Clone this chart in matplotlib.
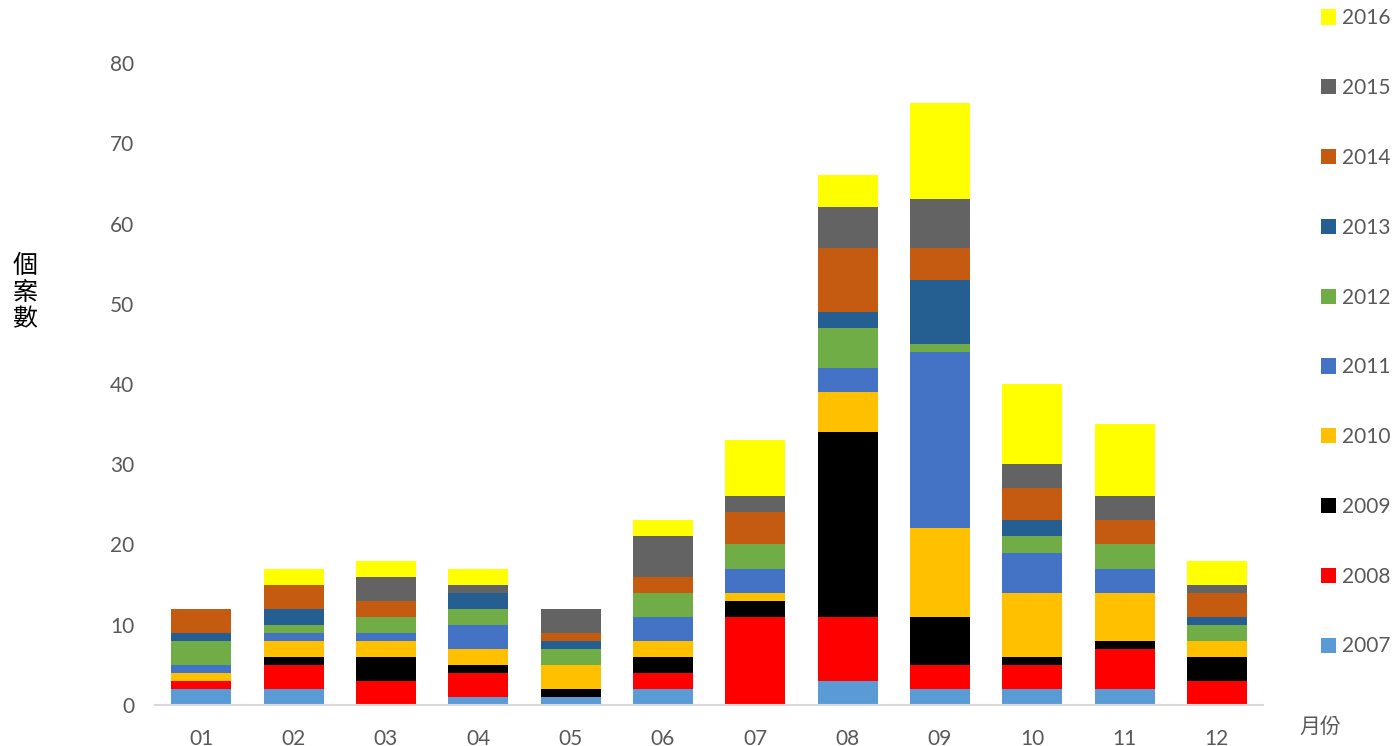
import numpy as np
import matplotlib.pyplot as plt

plt.rcParams['font.family'] = ['Lato', 'Noto Sans CJK TC', 'DejaVu Sans']

# Cases per month, one list per year
months = ['01', '02', '03', '04', '05', '06', '07', '08', '09', '10', '11', '12']
years = ['2007', '2008', '2009', '2010', '2011', '2012', '2013', '2014', '2015', '2016']

y2007 = [2, 2, 0, 1, 1, 2, 0, 3, 2, 2, 2, 0]
y2008 = [1, 3, 3, 3, 0, 2, 11, 8, 3, 3, 5, 3]
y2009 = [0, 1, 3, 1, 1, 2, 2, 23, 6, 1, 1, 3]
y2010 = [1, 2, 2, 2, 3, 2, 1, 5, 11, 8, 6, 2]
y2011 = [1, 1, 1, 3, 0, 3, 3, 3, 22, 5, 3, 0]
y2012 = [3, 1, 2, 2, 2, 3, 3, 5, 1, 2, 3, 2]
y2013 = [1, 2, 0, 2, 1, 0, 0, 2, 8, 2, 0, 1]
y2014 = [3, 3, 2, 0, 1, 2, 4, 8, 4, 4, 3, 3]
y2015 = [0, 0, 3, 1, 3, 5, 2, 5, 6, 3, 3, 1]
y2016 = [0, 2, 2, 2, 0, 2, 7, 4, 12, 10, 9, 3]

series = [y2007, y2008, y2009, y2010, y2011, y2012, y2013, y2014, y2015, y2016]
colours = ['#5B9BD5', '#FF0000', '#000000', '#FFC000', '#4472C4',
           '#70AD47', '#255E91', '#C55A11', '#636363', '#FFFF00']

fig = plt.figure(figsize=(13.93, 7.46), dpi=100)
ax = fig.add_axes([0.1113, 0.055, 0.7954, 0.8605])

x = np.arange(len(months))
bottom = np.zeros(len(months))
handles = []
for yr, vals, c in zip(years, series, colours):
    h = ax.bar(x, vals, bottom=bottom, width=0.65, color=c, label=yr, linewidth=0)
    handles.append(h)
    bottom = bottom + np.array(vals)

# Format
ax.set_xlim(-0.5, 11.5)
ax.set_ylim(0, 80)
ax.set_xticks(x)
ax.set_xticklabels(months)
ax.set_yticks(range(0, 81, 10))
ax.tick_params(length=0, labelsize=15, labelcolor='#595959')
ax.tick_params(axis='x', pad=17)
ax.tick_params(axis='y', pad=15)
for s in ['top', 'right', 'left']:
    ax.spines[s].set_visible(False)
ax.spines['bottom'].set_color('#D9D9D9')
ax.spines['bottom'].set_linewidth(1.5)

fig.text(0.009, 0.66, '個\n案\n數', fontsize=18, color='#000000',
         va='top', ha='left', linespacing=1.2)
fig.text(0.933, 0.025, '月份', fontsize=15, color='#595959', ha='left', va='center')

fig.legend(handles[::-1], years[::-1], loc='upper left',
           bbox_to_anchor=(0.942, 1.0), frameon=False, fontsize=15,
           labelcolor='#595959', handlelength=0.75, handleheight=0.75,
           handletextpad=0.3, labelspacing=2.39, borderaxespad=0)

fig.savefig('out.png', dpi=100)
